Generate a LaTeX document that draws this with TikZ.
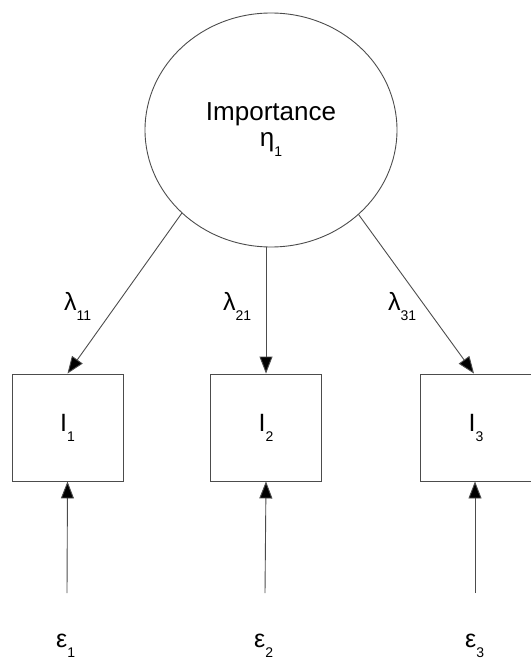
\documentclass[tikz,border=0pt]{standalone}
\usepackage{fontspec}
\setmainfont{Liberation Sans}
\usetikzlibrary{shapes.geometric,arrows.meta}
\newcommand{\lsub}[1]{\raisebox{-10pt}{\fontsize{14}{14}\selectfont #1}}
\tikzset{
  conn/.style={draw=black!70, line width=0.9pt, -{Triangle[length=17pt,width=13pt,fill=black]}},
  latent/.style={ellipse, draw=black!70, line width=0.9pt, minimum width=252pt, minimum height=234pt, inner sep=0pt, align=center, font=\fontsize{26}{26}\selectfont},
  obs/.style={rectangle, draw=black!70, line width=0.9pt, minimum width=111pt, minimum height=107pt, inner sep=0pt, font=\fontsize{25}{25}\selectfont},
  lbl/.style={inner sep=0pt, anchor=base west, font=\fontsize{25}{25}\selectfont}
}
\begin{document}
\begin{tikzpicture}[x=1pt,y=-1pt]
\useasboundingbox (0,0) rectangle (530,660);
\node[latent] (imp) at (271,130) {Importance\\η\lsub{1}};
\node[obs] (b1) at (67.5,427.5) {I\lsub{1}};
\node[obs] (b2) at (266,427.5) {I\lsub{2}};
\node[obs] (b3) at (476,427.5) {I\lsub{3}};
\coordinate (e1c) at (67,593);
\coordinate (e2c) at (265,593);
\coordinate (e3c) at (475,593);
\node[lbl] (l1) at (64,310) {λ\lsub{11}};
\node[lbl] (l2) at (223,310) {λ\lsub{21}};
\node[lbl] (l3) at (388,310) {λ\lsub{31}};
\node[lbl] (ep1) at (56,647) {ε\lsub{1}};
\node[lbl] (ep2) at (254,647) {ε\lsub{2}};
\node[lbl] (ep3) at (465,647) {ε\lsub{3}};
\draw[conn] (imp.223) -- (b1.north);
\draw[conn] (imp.south -| b2.north) -- (b2.north);
\draw[conn] (imp.316) -- ([xshift=-2pt]b3.north);
\draw[conn] (e1c) -- (b1.south);
\draw[conn] (e2c) -- (b2.south);
\draw[conn] (e3c) -- ([xshift=-1pt]b3.south);
\end{tikzpicture}
\end{document}
